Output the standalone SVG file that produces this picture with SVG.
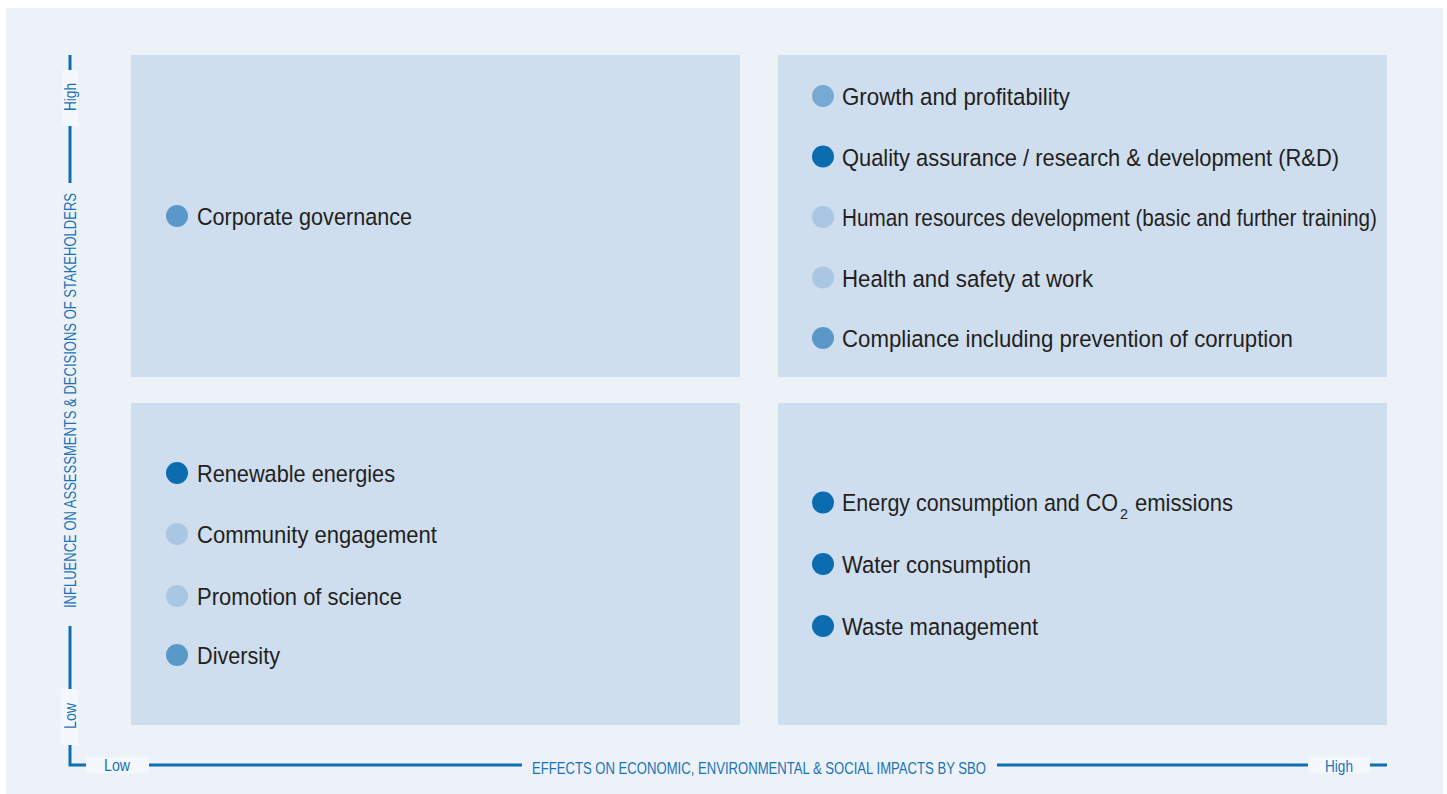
<svg xmlns="http://www.w3.org/2000/svg" width="1447" height="794" viewBox="0 0 1447 794">
<style>
.q{fill:#cfdeee}
.t{font-family:"Liberation Sans Narrow","Liberation Sans",Arial,sans-serif;font-size:24.5px;fill:#231f20}
.ax{font-family:"Liberation Sans Narrow","Liberation Sans",Arial,sans-serif;font-size:17px;fill:#1a73b8}
.lb{fill:#f4f8fc}
.ln{stroke:#0f6fb0;stroke-width:3;fill:none}
.d{fill:#0b6cb0}
.m{fill:#5b98ca}
.lm{fill:#78a9d5}
.l{fill:#a9c6e3}
</style>
<rect x="0" y="0" width="1447" height="794" fill="#ffffff"/>
<rect x="6" y="8" width="1437" height="786" fill="#edf2f9"/>

<g id="axes">
<path class="ln" d="M70 55 V70 M70 126 V183 M70 626 V689 M70 745 V765 H86 M149 765 H522 M997 765 H1308 M1370 765 H1387"/>
<rect class="lb" x="62" y="70" width="16" height="56"/>
<text class="ax" transform="translate(76,111) rotate(-90)" textLength="28" lengthAdjust="spacingAndGlyphs">High</text>
<rect class="lb" x="61" y="689" width="17" height="56"/>
<text class="ax" transform="translate(76,729) rotate(-90)" textLength="26" lengthAdjust="spacingAndGlyphs">Low</text>
<text class="ax" transform="translate(75.5,608) rotate(-90)" textLength="415" lengthAdjust="spacingAndGlyphs">INFLUENCE ON ASSESSMENTS &amp; DECISIONS OF STAKEHOLDERS</text>
<rect class="lb" x="86" y="757" width="63" height="16"/>
<text class="ax" x="104" y="771" textLength="26" lengthAdjust="spacingAndGlyphs">Low</text>
<text class="ax" x="532" y="774" textLength="454" lengthAdjust="spacingAndGlyphs">EFFECTS ON ECONOMIC, ENVIRONMENTAL &amp; SOCIAL IMPACTS BY SBO</text>
<rect class="lb" x="1308" y="757" width="62" height="16"/>
<text class="ax" x="1325" y="772" textLength="28" lengthAdjust="spacingAndGlyphs">High</text>
</g>

<g id="q-top-left">
<rect class="q" x="131" y="55" width="609" height="322"/>
<circle class="m" cx="177" cy="216" r="11"/>
<text class="t" x="197" y="225" textLength="215" lengthAdjust="spacingAndGlyphs">Corporate governance</text>
</g>

<g id="q-top-right">
<rect class="q" x="778" y="55" width="609" height="322"/>
<circle class="lm" cx="823" cy="96" r="11"/>
<text class="t" x="842" y="105" textLength="228" lengthAdjust="spacingAndGlyphs">Growth and profitability</text>
<circle class="d" cx="823" cy="156.5" r="11"/>
<text class="t" x="842" y="165.5" textLength="497" lengthAdjust="spacingAndGlyphs">Quality assurance / research &amp; development (R&amp;D)</text>
<circle class="l" cx="823" cy="217" r="11"/>
<text class="t" x="842" y="226" textLength="535" lengthAdjust="spacingAndGlyphs">Human resources development (basic and further training)</text>
<circle class="l" cx="823" cy="277.5" r="11"/>
<text class="t" x="842" y="286.5" textLength="251" lengthAdjust="spacingAndGlyphs">Health and safety at work</text>
<circle class="m" cx="823" cy="338" r="11"/>
<text class="t" x="842" y="347" textLength="451" lengthAdjust="spacingAndGlyphs">Compliance including prevention of corruption</text>
</g>

<g id="q-bottom-left">
<rect class="q" x="131" y="403" width="609" height="322"/>
<circle class="d" cx="177" cy="473" r="11"/>
<text class="t" x="197" y="482" textLength="198" lengthAdjust="spacingAndGlyphs">Renewable energies</text>
<circle class="l" cx="177" cy="534" r="11"/>
<text class="t" x="197" y="543" textLength="240" lengthAdjust="spacingAndGlyphs">Community engagement</text>
<circle class="l" cx="177" cy="596" r="11"/>
<text class="t" x="197" y="605" textLength="205" lengthAdjust="spacingAndGlyphs">Promotion of science</text>
<circle class="m" cx="177" cy="655" r="11"/>
<text class="t" x="197" y="664" textLength="83" lengthAdjust="spacingAndGlyphs">Diversity</text>
</g>

<g id="q-bottom-right">
<rect class="q" x="778" y="403" width="609" height="322"/>
<circle class="d" cx="823" cy="502.5" r="11"/>
<text class="t" x="842" y="511"><tspan x="842" textLength="276" lengthAdjust="spacingAndGlyphs">Energy consumption and CO</tspan><tspan x="1120" y="519" font-size="14" textLength="8" lengthAdjust="spacingAndGlyphs">2</tspan><tspan x="1135" y="511" textLength="98" lengthAdjust="spacingAndGlyphs">emissions</tspan></text>
<circle class="d" cx="823" cy="564" r="11"/>
<text class="t" x="842" y="573" textLength="189" lengthAdjust="spacingAndGlyphs">Water consumption</text>
<circle class="d" cx="823" cy="626" r="11"/>
<text class="t" x="842" y="635" textLength="196" lengthAdjust="spacingAndGlyphs">Waste management</text>
</g>
</svg>
